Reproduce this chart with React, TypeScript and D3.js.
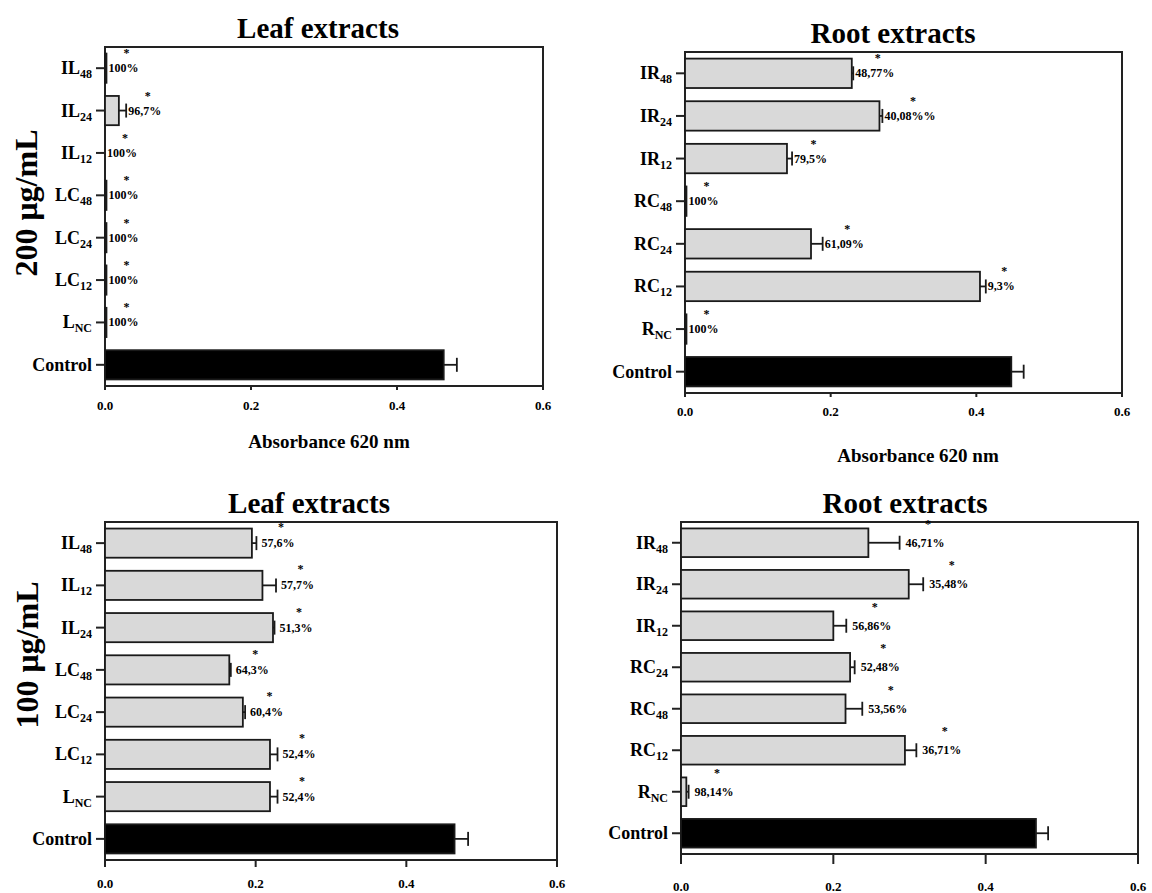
import React, { useRef, useEffect } from 'react';
import * as d3 from 'd3';

// 200 µg/mL - leaf
const leafCats200 = ['IL48', 'IL24', 'IL12', 'LC48', 'LC24', 'LC12', 'LNC', 'Control'];
const leafVals200 = [0.002, 0.019, 0, 0.002, 0.002, 0.002, 0.002, 0.464];
const leafErr200 = [0, 0.01, 0, 0, 0, 0, 0, 0.018];
const leafPct200 = ['100%', '96,7%', '100%', '100%', '100%', '100%', '100%', ''];

// 200 µg/mL - root
const rootCats200 = ['IR48', 'IR24', 'IR12', 'RC48', 'RC24', 'RC12', 'RNC', 'Control'];
const rootVals200 = [0.229, 0.267, 0.14, 0.002, 0.173, 0.405, 0.002, 0.448];
const rootErr200 = [0.002, 0.004, 0.007, 0, 0.016, 0.008, 0, 0.017];
const rootPct200 = ['48,77%', '40,08%%', '79,5%', '100%', '61,09%', '9,3%', '100%', ''];

// 100 µg/mL - leaf
const leafCats100 = ['IL48', 'IL12', 'IL24', 'LC48', 'LC24', 'LC12', 'LNC', 'Control'];
const leafVals100 = [0.195, 0.209, 0.223, 0.165, 0.183, 0.219, 0.219, 0.464];
const leafErr100 = [0.006, 0.018, 0.002, 0.002, 0.003, 0.01, 0.01, 0.018];
const leafPct100 = ['57,6%', '57,7%', '51,3%', '64,3%', '60,4%', '52,4%', '52,4%', ''];

// 100 µg/mL - root
const rootCats100 = ['IR48', 'IR24', 'IR12', 'RC24', 'RC48', 'RC12', 'RNC', 'Control'];
const rootVals100 = [0.246, 0.299, 0.2, 0.222, 0.216, 0.294, 0.007, 0.466];
const rootErr100 = [0.041, 0.019, 0.017, 0.006, 0.022, 0.015, 0.003, 0.016];
const rootPct100 = ['46,71%', '35,48%', '56,86%', '52,48%', '53,56%', '36,71%', '98,14%', ''];

const xTicks = [0, 0.2, 0.4, 0.6];
const xTitle = 'Absorbance 620 nm';

const FONT = "'Liberation Serif', 'Times New Roman', serif";

const panels = [
  {
    cats: leafCats200, vals: leafVals200, err: leafErr200, pct: leafPct200,
    title: 'Leaf extracts', titleX: 318, titleY: 38,
    left: 105, right: 543, top: 47, bottom: 386, tickLen: 4, tickLabelY: 410,
    xTitleX: 329, xTitleY: 448, yLabel: '200 μg/mL', yLabelX: 37, yLabelY: 203,
    gap: 2, starUp: 17,
  },
  {
    cats: rootCats200, vals: rootVals200, err: rootErr200, pct: rootPct200,
    title: 'Root extracts', titleX: 893, titleY: 43,
    left: 685, right: 1122, top: 52, bottom: 393, tickLen: 4, tickLabelY: 416,
    xTitleX: 918, xTitleY: 462, yLabel: null, yLabelX: 0, yLabelY: 0,
    gap: 2, starUp: 17,
  },
  {
    cats: leafCats100, vals: leafVals100, err: leafErr100, pct: leafPct100,
    title: 'Leaf extracts', titleX: 309, titleY: 513,
    left: 105, right: 557, top: 522, bottom: 860, tickLen: 7, tickLabelY: 888,
    xTitleX: null, xTitleY: 0, yLabel: '100 μg/mL', yLabelX: 38, yLabelY: 655,
    gap: 5, starUp: 18,
  },
  {
    cats: rootCats100, vals: rootVals100, err: rootErr100, pct: rootPct100,
    title: 'Root extracts', titleX: 905, titleY: 513,
    left: 681, right: 1138, top: 522, bottom: 854, tickLen: 10, tickLabelY: 891,
    xTitleX: null, xTitleY: 0, yLabel: null, yLabelX: 0, yLabelY: 0,
    gap: 6, starUp: 21,
  },
];

const App = () => {
  const svgRef = useRef<SVGSVGElement>(null);

  useEffect(() => {
    const svg = d3.select(svgRef.current);
    svg.selectAll('*').remove();

    panels.forEach((p) => {
      const g = svg.append('g').style('font-family', FONT).style('font-weight', 'bold');

      const xScale = d3.scaleLinear().domain([0, 0.6]).range([p.left, p.right]);
      const yScale = d3.scaleBand()
        .domain(p.cats)
        .range([p.top, p.bottom])
        .paddingInner(0.31)
        .paddingOuter(0.155);
      const mid = (d: string) => (yScale(d) as number) + yScale.bandwidth() / 2;

      // title
      g.append('text')
        .attr('x', p.titleX).attr('y', p.titleY)
        .attr('text-anchor', 'middle')
        .attr('font-size', 29)
        .text(p.title);

      // frame
      g.append('rect')
        .attr('x', p.left).attr('y', p.top)
        .attr('width', p.right - p.left).attr('height', p.bottom - p.top)
        .attr('fill', 'none').attr('stroke', '#222').attr('stroke-width', 2);

      // x axis ticks
      g.selectAll('.xtick').data(xTicks).enter().append('line')
        .attr('x1', (d) => xScale(d)).attr('x2', (d) => xScale(d))
        .attr('y1', p.bottom).attr('y2', p.bottom + p.tickLen)
        .attr('stroke', '#222').attr('stroke-width', 2);

      g.selectAll('.xlabel').data(xTicks).enter().append('text')
        .attr('x', (d) => xScale(d)).attr('y', p.tickLabelY)
        .attr('text-anchor', 'middle').attr('font-size', 13)
        .text((d) => d3.format('.1f')(d));

      if (p.xTitleX !== null) {
        g.append('text')
          .attr('x', p.xTitleX).attr('y', p.xTitleY)
          .attr('text-anchor', 'middle').attr('font-size', 19)
          .text(xTitle);
      }

      if (p.yLabel) {
        g.append('text')
          .attr('transform', `translate(${p.yLabelX},${p.yLabelY}) rotate(-90)`)
          .attr('text-anchor', 'middle').attr('font-size', 32)
          .text(p.yLabel);
      }

      // y ticks + category labels
      p.cats.forEach((c) => {
        const cy = mid(c);
        g.append('line')
          .attr('x1', p.left - 9).attr('x2', p.left)
          .attr('y1', cy).attr('y2', cy)
          .attr('stroke', '#222').attr('stroke-width', 2);

        const m = c.match(/^(.*?)(\d+|NC)$/);
        const t = g.append('text')
          .attr('x', p.left - 13).attr('y', cy + 6)
          .attr('text-anchor', 'end').attr('font-size', 18);
        if (m) {
          t.append('tspan').text(m[1]);
          t.append('tspan').attr('font-size', 12).attr('dy', 4).text(m[2]);
        } else {
          t.text(c);
        }
      });

      // bars, error bars, annotations
      p.cats.forEach((c, i) => {
        const v = p.vals[i];
        const e = p.err[i];
        const cy = mid(c);
        if (v > 0) {
          g.append('rect')
            .attr('x', xScale(0)).attr('y', yScale(c) as number)
            .attr('width', xScale(v) - xScale(0))
            .attr('height', yScale.bandwidth())
            .attr('fill', c === 'Control' ? '#000' : '#d9d9d9')
            .attr('stroke', '#1a1a1a').attr('stroke-width', 1.8);
        }
        if (e > 0) {
          const xe = xScale(v + e);
          g.append('line')
            .attr('x1', xScale(v)).attr('x2', xe)
            .attr('y1', cy).attr('y2', cy)
            .attr('stroke', '#1a1a1a').attr('stroke-width', 1.8);
          g.append('line')
            .attr('x1', xe).attr('x2', xe)
            .attr('y1', cy - 7).attr('y2', cy + 7)
            .attr('stroke', '#1a1a1a').attr('stroke-width', 1.8);
        }
        if (p.pct[i]) {
          const lx = xScale(v + e) + p.gap;
          const lab = g.append('text')
            .attr('x', lx).attr('y', cy + 4)
            .attr('font-size', 12)
            .text(p.pct[i]);
          const w = (lab.node() as SVGTextElement).getComputedTextLength();
          g.append('text')
            .attr('x', lx + w / 2 + 3).attr('y', cy - p.starUp + 6)
            .attr('text-anchor', 'middle').attr('font-size', 12)
            .text('*');
        }
      });
    });
  }, []);

  return (
    <svg
      ref={svgRef}
      width={1152}
      height={893}
      style={{ position: 'absolute', left: 0, top: 0, background: '#fff' }}
    />
  );
};

export default App;
